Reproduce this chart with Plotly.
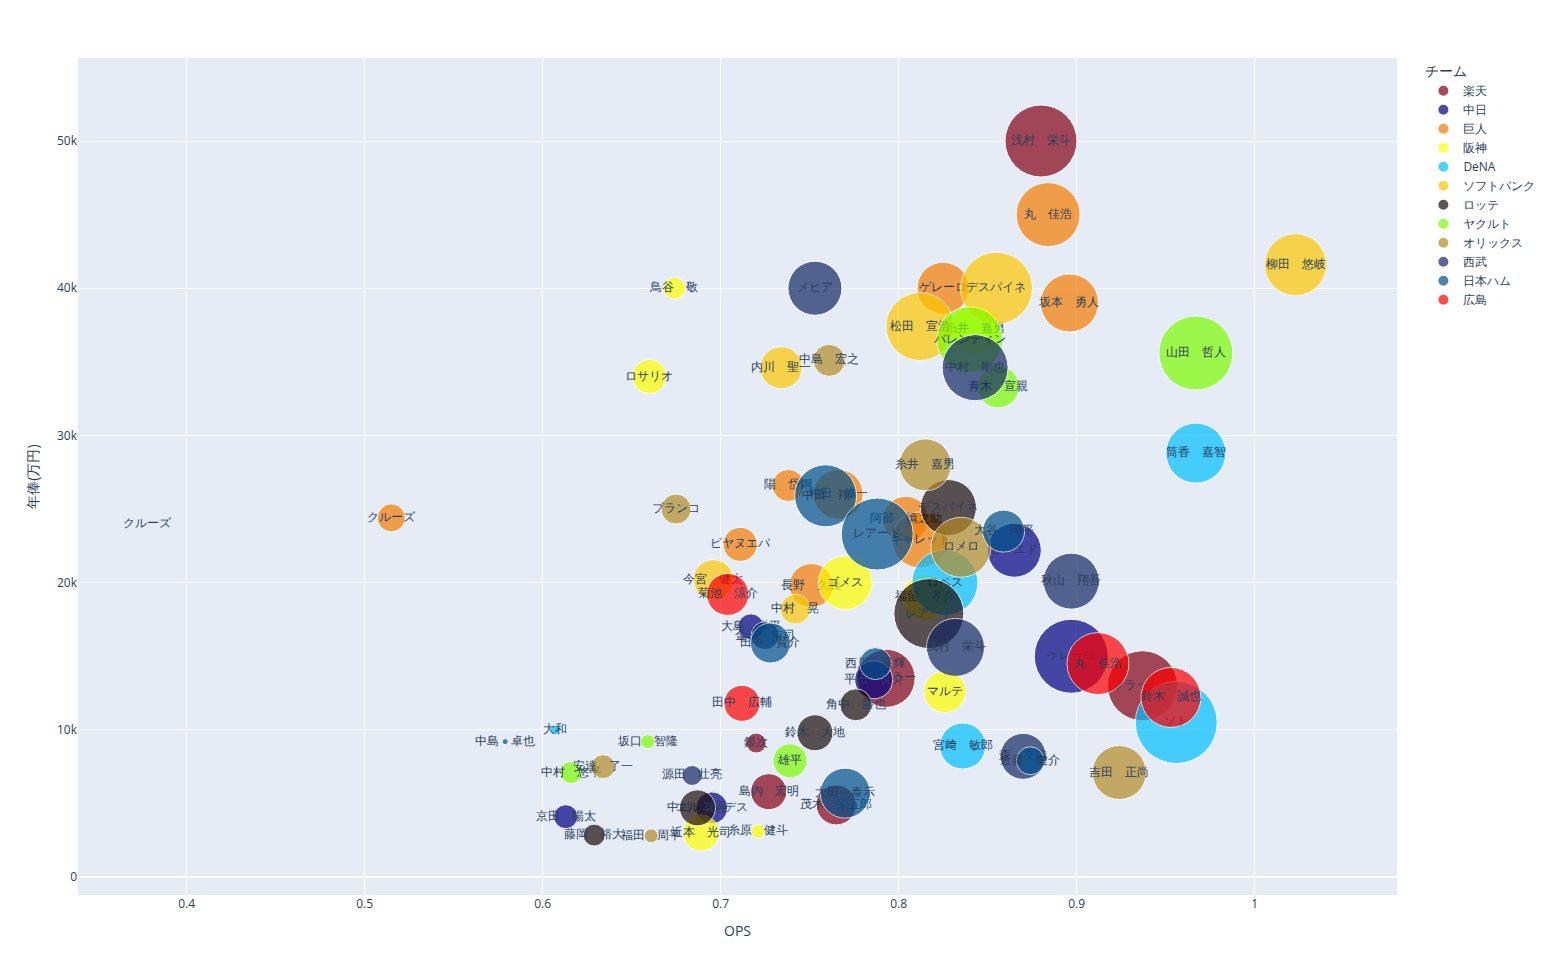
import plotly.graph_objects as go

teams = ["楽天", "中日", "巨人", "阪神", "DeNA", "ソフトバンク", "ロッテ", "ヤクルト", "オリックス", "西武", "日本ハム", "広島"]
team_colors = ["rgb(133,0,20)", "rgb(0,0,128)", "rgb(245,124,0)", "rgb(255,255,0)", "rgb(0,191,255)",
               "rgb(252,200,0)", "rgb(28,14,10)", "rgb(124,252,0)", "rgb(180,140,40)", "rgb(20,40,100)",
               "rgb(0,80,140)", "rgb(255,0,0)"]

player_team = [
    "楽天", "楽天", "楽天", "楽天", "楽天", "楽天", "楽天",
    "中日", "中日", "中日", "中日", "中日", "中日",
    "巨人", "巨人", "巨人", "巨人", "巨人", "巨人", "巨人", "巨人", "巨人", "巨人",
    "阪神", "阪神", "阪神", "阪神", "阪神", "阪神", "阪神", "阪神",
    "DeNA", "DeNA", "DeNA", "DeNA", "DeNA",
    "ソフトバンク", "ソフトバンク", "ソフトバンク", "ソフトバンク", "ソフトバンク", "ソフトバンク",
    "ロッテ", "ロッテ", "ロッテ", "ロッテ", "ロッテ", "ロッテ",
    "ヤクルト", "ヤクルト", "ヤクルト", "ヤクルト", "ヤクルト", "ヤクルト",
    "オリックス", "オリックス", "オリックス", "オリックス", "オリックス", "オリックス", "オリックス",
    "西武", "西武", "西武", "西武", "西武", "西武", "西武",
    "日本ハム", "日本ハム", "日本ハム", "日本ハム", "日本ハム", "日本ハム", "日本ハム", "日本ハム",
    "広島", "広島", "広島", "広島",
]
player_name = [
    "浅村　栄斗", "ブラッシュ", "ウィーラー", "銀次", "島内　宏明", "茂木　栄五郎", "クルーズ",
    "ゲレーロ", "ビシエド", "平田　良介", "大島　洋平", "京田　陽太", "エルナンデス",
    "丸　佳浩", "坂本　勇人", "ゲレーロ", "陽　岱鋼", "村田　修一", "ビヤヌエバ", "長野　久義", "クルーズ", "阿部　慎之助", "ギャレット",
    "鳥谷　敬", "ロサリオ", "糸井　嘉男", "ゴメス", "福留　孝介", "マルテ", "近本　光司", "糸原　健斗",
    "筒香　嘉智", "ソト", "ロペス", "宮﨑　敏郎", "大和",
    "柳田　悠岐", "デスパイネ", "松田　宣浩", "内川　聖一", "今宮　健太", "中村　晃",
    "デスパイネ", "レアード", "角中　勝也", "鈴木　大地", "中村　奨吾", "藤岡　裕大",
    "山田　哲人", "バレンティン", "青木　宣親", "雄平", "坂口　智隆", "中村　悠平",
    "糸井　嘉男", "中島　宏之", "ブランコ", "ロメロ", "吉田　正尚", "安達　了一", "福田　周平",
    "メヒア", "中村　剛也", "秋山　翔吾", "浅村　栄斗", "森　友哉", "源田　壮亮", "金子　侑司",
    "中田　翔", "レアード", "大谷　翔平", "西川　遥輝", "大田　泰示", "近藤　健介", "中島　卓也", "田中　賢介",
    "丸　佳浩", "鈴木　誠也", "菊池　涼介", "田中　広輔",
]
player_ops = [
    0.880, 0.937, 0.793, 0.720, 0.727, 0.765, 0.378,
    0.897, 0.865, 0.786, 0.717, 0.613, 0.695,
    0.884, 0.896, 0.825, 0.738, 0.766, 0.711, 0.751, 0.515, 0.804, 0.812,
    0.674, 0.660, 0.843, 0.770, 0.815, 0.826, 0.689, 0.721,
    0.967, 0.956, 0.826, 0.836, 0.607,
    1.023, 0.855, 0.812, 0.734, 0.696, 0.742,
    0.828, 0.817, 0.776, 0.753, 0.687, 0.629,
    0.967, 0.840, 0.856, 0.739, 0.659, 0.616,
    0.815, 0.761, 0.675, 0.835, 0.924, 0.634, 0.661,
    0.753, 0.843, 0.897, 0.832, 0.870, 0.684, 0.725,
    0.759, 0.788, 0.859, 0.787, 0.770, 0.874, 0.579, 0.728,
    0.912, 0.953, 0.704, 0.712,
]
player_salary = [
    50000, 13000, 13500, 9100, 5800, 4900, 24000,
    15000, 22200, 13400, 17000, 4100, 4700,
    45000, 39000, 40000, 26600, 26000, 22600, 19800, 24400, 24300, 22900,
    40000, 34000, 37200, 20000, 19000, 12600, 3000, 3100,
    28800, 10500, 20000, 8900, 10000,
    41600, 40000, 37400, 34600, 20200, 18200,
    25100, 17900, 11700, 9800, 4700, 2850,
    35600, 36500, 33300, 7900, 9200, 7100,
    28000, 35100, 25000, 22400, 7100, 7500, 2800,
    40000, 34600, 20100, 15600, 8200, 6900, 16400,
    25900, 23300, 23500, 14500, 5700, 7900, 9200, 15900,
    14500, 12200, 19200, 11800,
]
player_hr = [
    36, 35, 29, 10, 18, 20, 0,
    37, 27, 19, 13, 12, 16,
    32, 29, 26, 16, 25, 17, 22, 14, 23, 28,
    11, 17, 25, 27, 23, 21, 18, 7,
    30, 41, 33, 23, 5,
    31, 36, 34, 21, 20, 15,
    28, 35, 16, 18, 18, 11,
    37, 33, 21, 17, 7, 11,
    26, 16, 15, 30, 27, 12, 7,
    27, 33, 28, 29, 23, 10, 14,
    31, 36, 21, 16, 25, 14, 3, 20,
    31, 30, 21, 18,
]

fig = go.Figure()
for team, color in zip(teams, team_colors):
    idx = [i for i, t in enumerate(player_team) if t == team]
    fig.add_trace(go.Scatter(
        x=[player_ops[i] for i in idx],
        y=[player_salary[i] for i in idx],
        text=[player_name[i] for i in idx],
        mode="markers+text",
        name=team,
        marker=dict(
            color=color,
            size=[player_hr[i] for i in idx],
            sizemode="diameter",
            sizeref=0.5,
            opacity=0.7,
        ),
        textposition="middle center",
    ))

fig.update_layout(
    width=1545,
    height=958,
    margin=dict(l=70, r=156, t=50, b=71),
    legend=dict(title=dict(text="チーム"), itemsizing="constant"),
    xaxis=dict(title=dict(text="OPS"), range=[0.339, 1.080]),
    yaxis=dict(title=dict(text="年俸(万円)"), range=[-1220, 55640]),
)
fig.write_html("out.html")
